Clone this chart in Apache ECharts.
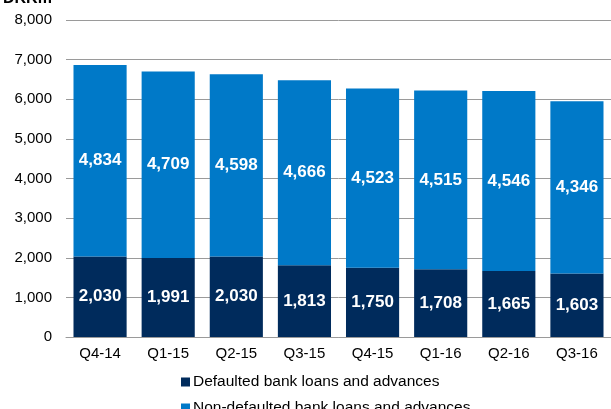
<!DOCTYPE html>
<html>
<head>
<meta charset="utf-8">
<script src="https://cdn.jsdelivr.net/npm/echarts@6/dist/echarts.min.js"></script>
<style>
  html, body { margin: 0; padding: 0; background: #fff; }
  #chart { width: 611px; height: 409px; }
</style>
</head>
<body>
<div id="chart"></div>
<script>
const quarters = ['Q4-14', 'Q1-15', 'Q2-15', 'Q3-15', 'Q4-15', 'Q1-16', 'Q2-16', 'Q3-16']
const defaulted = [2030, 1991, 2030, 1813, 1750, 1708, 1665, 1603]
const nonDefaulted = [4834, 4709, 4598, 4666, 4523, 4515, 4546, 4346]

const chart = echarts.init(document.getElementById('chart'))

const fmt = (p) => p.value.toLocaleString('en-US')
const barLabel = {
  show: true,
  position: 'inside',
  color: '#fff',
  fontFamily: 'Liberation Sans',
  fontWeight: 'bold',
  fontSize: 17,
  formatter: fmt,
}

// one legend per row so the two entries stack like the original
const legendRow = (name, top) => ({
  left: 176,
  top: top,
  itemWidth: 9,
  itemHeight: 9,
  icon: 'rect',
  textStyle: { fontSize: 15.5, color: '#000', padding: [0, 0, 0, -2] },
  data: [name],
})

const option = {
  animation: false,
  textStyle: { fontFamily: 'Liberation Sans' },
  graphic: [
    {
      type: 'text',
      left: 3,
      top: -9,
      style: { text: 'DKKm', font: 'bold 16px "Liberation Sans"', fill: '#000' },
    },
  ],
  legend: [
    legendRow('Defaulted bank loans and advances', 369),
    legendRow('Non-defaulted bank loans and advances', 395),
  ],
  grid: {
    left: 66,
    right: -6,
    top: 20,
    bottom: 72,
    containLabel: false,
  },
  xAxis: {
    type: 'category',
    data: quarters,
    axisLine: { lineStyle: { color: '#9a9a9a', width: 1 } },
    axisTick: { show: false },
    axisLabel: { color: '#000', fontSize: 15, margin: 9 },
  },
  yAxis: {
    type: 'value',
    min: 0,
    max: 8000,
    interval: 1000,
    axisLine: { show: false },
    axisTick: { show: false },
    axisLabel: {
      color: '#000',
      fontSize: 15,
      margin: 14,
      formatter: (v) => v.toLocaleString('en-US'),
    },
    splitLine: { lineStyle: { color: '#9a9a9a', width: 1 } },
  },
  series: [
    {
      name: 'Defaulted bank loans and advances',
      type: 'bar',
      stack: 'loans',
      barCategoryGap: '22%',
      itemStyle: { color: '#002B5C' },
      label: barLabel,
      data: defaulted,
    },
    {
      name: 'Non-defaulted bank loans and advances',
      type: 'bar',
      stack: 'loans',
      barCategoryGap: '22%',
      itemStyle: { color: '#0079C8' },
      label: barLabel,
      data: nonDefaulted,
    },
  ],
}

chart.setOption(option)
</script>
</body>
</html>
